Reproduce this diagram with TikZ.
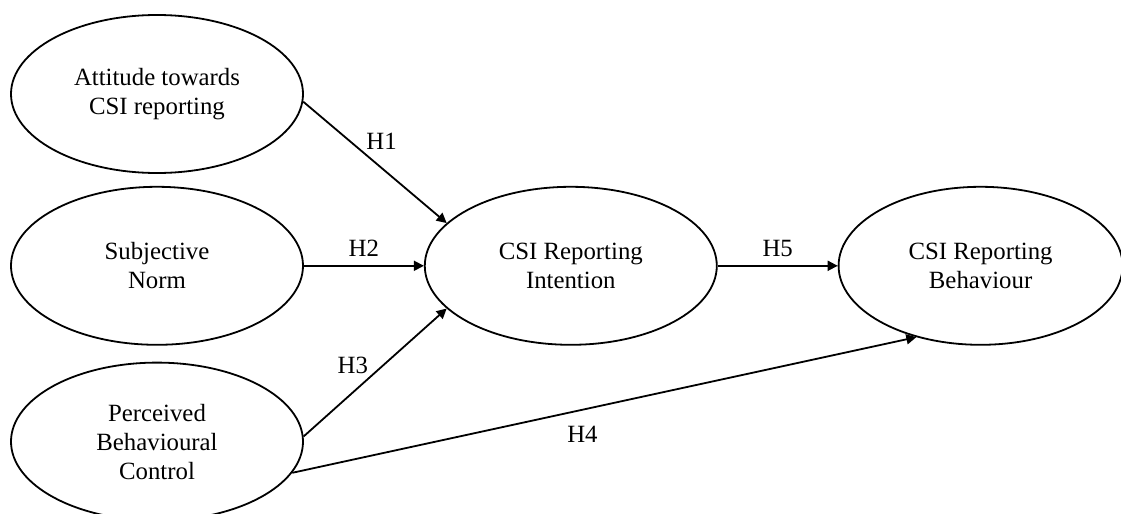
\documentclass[tikz,border=0pt]{standalone}
\usepackage{fontspec}
\setmainfont{Liberation Serif}
\usetikzlibrary{arrows.meta,positioning,shapes.geometric}

\begin{document}
\begin{tikzpicture}[
  x=0.5pt, y=-0.5pt,
  construct/.style={ellipse, draw, line width=0.9pt, minimum width=146pt, minimum height=79pt,
                    inner sep=0pt, align=center, font=\fontsize{12.4}{14.5}\selectfont},
  arr/.style={-{Triangle[length=5pt,width=5pt]}, line width=0.9pt},
  hyp/.style={inner sep=1pt, font=\fontsize{12.4}{14.5}\selectfont},
]
\useasboundingbox (0,0) rectangle (1121,514);
\node[construct] (att) at (157,94) {Attitude towards\\ CSI reporting};
\node[construct, below=6pt of att] (sub) {Subjective\\ Norm};
\node[construct, below=8pt of sub] (pbc) {Perceived\\ Behavioural\\ Control};
\node[construct, right=60pt of sub] (int) {CSI Reporting\\ Intention};
\node[construct, minimum width=142pt, right=60pt of int] (beh) {CSI Reporting\\ Behaviour};

\draw[arr] (att.-3) -- node[hyp, pos=0.42, above right]{H1} (int.161);
\draw[arr] (sub) -- node[hyp, above=3pt]{H2} (int);
\draw[arr] (pbc.2) -- node[hyp, pos=0.47, above left]{H3} (int.199);
\draw[arr] (pbc.-13) -- node[hyp, pos=0.465, below=7pt]{H4} (beh.228);
\draw[arr] (int) -- node[hyp, above=3pt]{H5} (beh);
\end{tikzpicture}
\end{document}
